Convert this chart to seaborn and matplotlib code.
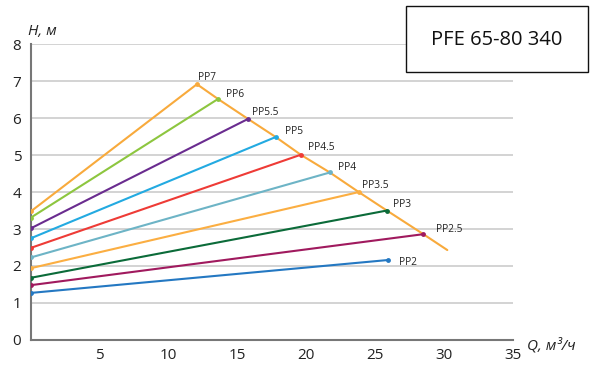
import matplotlib
matplotlib.use("Agg")
import matplotlib.pyplot as plt
import seaborn as sns
import pandas as pd
from matplotlib.patches import Rectangle

# ---- data ----
series = ["PP7", "PP6", "PP5.5", "PP5", "PP4.5", "PP4", "PP3.5", "PP3", "PP2.5", "PP2"]
start_q = [0, 0, 0, 0, 0, 0, 0, 0, 0, 0]
start_h = [3.48, 3.31, 3.02, 2.75, 2.49, 2.23, 1.94, 1.68, 1.48, 1.27]
end_q = [12.05, 13.58, 15.76, 17.77, 19.59, 21.7, 23.8, 25.84, 28.49, 25.91]
end_h = [6.92, 6.52, 5.98, 5.49, 5.01, 4.53, 4.00, 3.50, 2.86, 2.16]
colors = ["#F8AA3C", "#8DC63F", "#6A2C8F", "#23AAE1", "#EE3B36",
          "#6DB4C6", "#FBAE42", "#0B6B39", "#A01A5E", "#2478C2"]
env_q = [12.05, 13.58, 15.76, 17.77, 19.59, 21.7, 23.8, 25.84, 28.49, 30.23]
env_h = [6.92, 6.52, 5.98, 5.49, 5.01, 4.53, 4.00, 3.50, 2.86, 2.43]
x_ticks = [0, 5, 10, 15, 20, 25, 30, 35]
y_ticks = [0, 1, 2, 3, 4, 5, 6, 7, 8]
title = "PFE 65-80 340"

rows = []
for s, q0, h0, q1, h1 in zip(series, start_q, start_h, end_q, end_h):
    rows.append({"series": s, "Q": q0, "H": h0})
    rows.append({"series": s, "Q": q1, "H": h1})
df = pd.DataFrame(rows)
env = pd.DataFrame({"Q": env_q, "H": env_h})
palette = dict(zip(series, colors))

sns.set_theme(style="white")
plt.rcParams["font.family"] = ["Open Sans", "DejaVu Sans"]

fig = plt.figure(figsize=(5.9, 3.65), dpi=100)
ax = fig.add_axes([0.0525, 0.069, 0.8170, 0.8096])

for y in y_ticks:
    ax.axhline(y, color="#cccccc", lw=1.2, zorder=0)

sns.lineplot(data=env, x="Q", y="H", color="#F8AA3C", lw=1.5, sort=False,
             ax=ax, zorder=2)
sns.lineplot(data=df, x="Q", y="H", hue="series", palette=palette, lw=1.5,
             marker="o", markersize=3.5, markeredgewidth=0, sort=False,
             legend=False, ax=ax, zorder=3, estimator=None)

# label offsets in pixels (dx right, dy down) from each curve's end point
label_px = {"PP7": (1.3, -6.6), "PP6": (8, -4.3), "PP5.5": (4, -6.7),
            "PP5": (9.7, -6), "PP4.5": (7.7, -7.7), "PP4": (8.3, -5),
            "PP3.5": (3.7, -7), "PP3": (5.7, -5.7), "PP2.5": (12.3, -4.3),
            "PP2": (10.7, 2.7)}
for s, q1, h1 in zip(series, end_q, end_h):
    dx, dy = label_px[s]
    ax.annotate(s, (q1, h1), xytext=(dx * 0.72, -dy * 0.72), textcoords="offset points",
                fontsize=7.3, color="#222222", ha="left", va="center")

ax.set_xlim(0, 35)
ax.set_ylim(0, 8)
ax.set_xticks(x_ticks)
ax.set_xticklabels(["" if v == 0 else str(v) for v in x_ticks])
ax.set_yticks(y_ticks)
ax.set_xlabel("")
ax.set_ylabel("")
for sp in ["top", "right"]:
    ax.spines[sp].set_visible(False)
for sp in ["left", "bottom"]:
    ax.spines[sp].set_color("#777777")
    ax.spines[sp].set_linewidth(1.5)
ax.tick_params(axis="both", length=4, width=1, color="#777777", labelsize=11,
               labelcolor="#222222", direction="out", pad=3)
ax.tick_params(axis="x", pad=2)

fig.text(0.047, 0.905, "H, м", fontsize=11, style="italic", color="#222222")
fig.text(0.893, 0.043, "Q, м³/ч", fontsize=11, style="italic", color="#222222")

fig.patches.append(Rectangle((406 / 590, 1 - 72 / 365), 182 / 590, 66 / 365,
                             transform=fig.transFigure, facecolor="white",
                             edgecolor="#111111", lw=1.0, zorder=5))
t = fig.text(497 / 590, 1 - 40 / 365, title, fontsize=14.5, color="#111111",
             ha="center", va="center")
t.set_zorder(6)

fig.savefig("out.png", dpi=100)
